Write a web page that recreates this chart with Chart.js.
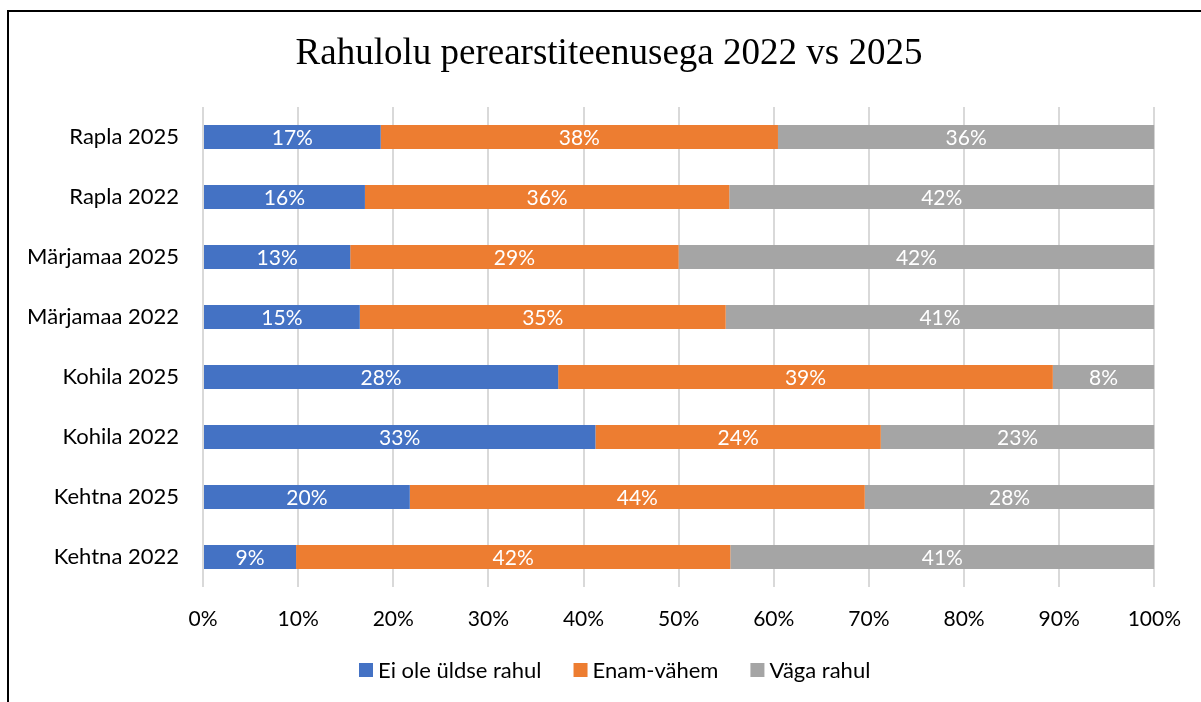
<!DOCTYPE html>
<html>
<head>
<meta charset="utf-8">
<script src="https://cdn.jsdelivr.net/npm/chart.js@4.4.1/dist/chart.umd.min.js"></script>
<style>
  html, body { margin: 0; padding: 0; background: #fff; }
  #wrap { position: relative; width: 1201px; height: 702px; overflow: hidden; }
  #frame { position: absolute; left: 7px; top: 10px; right: -10px; bottom: -10px;
           border-top: 2px solid #000; border-left: 2px solid #000; }
  canvas { position: absolute; left: 0; top: 0; }
</style>
</head>
<body>
<div id="wrap">
  <div id="frame"></div>
  <canvas id="chart" width="1201" height="702"></canvas>
</div>
<script>
// raw survey shares as printed on the bars (rows do not add to 100)
const categories = ['Rapla 2025', 'Rapla 2022', 'Märjamaa 2025', 'Märjamaa 2022',
                    'Kohila 2025', 'Kohila 2022', 'Kehtna 2025', 'Kehtna 2022'];
const notSatisfied  = [17, 16, 13, 15, 28, 33, 20, 9];
const moreOrLess    = [38, 36, 29, 35, 39, 24, 44, 42];
const verySatisfied = [36, 42, 42, 41, 8, 23, 28, 41];
const seriesNames   = ['Ei ole üldse rahul', 'Enam-vähem', 'Väga rahul'];
const seriesColors  = ['#4472C4', '#ED7D31', '#A5A5A5'];
const xTicks = [0, 10, 20, 30, 40, 50, 60, 70, 80, 90, 100];
const chartTitle = 'Rahulolu perearstiteenusega 2022 vs 2025';

const rawSeries = [notSatisfied, moreOrLess, verySatisfied];
const rowTotals = categories.map((_, i) => rawSeries.reduce((s, arr) => s + arr[i], 0));
// 100% stacked: each segment as a share of its row
const share = arr => arr.map((v, i) => v / rowTotals[i] * 100);

const FONT = 'Lato, Carlito, Calibri, sans-serif';

const barLabels = {
  id: 'barLabels',
  afterDatasetsDraw(chart) {
    const c = chart.ctx;
    c.save();
    c.font = '21px ' + FONT;
    c.fillStyle = '#fff';
    c.textAlign = 'center';
    c.textBaseline = 'middle';
    chart.data.datasets.forEach((ds, di) => {
      chart.getDatasetMeta(di).data.forEach((bar, i) => {
        const mid = (bar.x + bar.base) / 2;
        c.fillText(rawSeries[di][i] + '%', mid, bar.y + 1);
      });
    });
    c.restore();
  }
};

// title centred on the whole frame, not on the padded box
const frameTitle = {
  id: 'frameTitle',
  afterDraw(chart) {
    const c = chart.ctx;
    c.save();
    c.font = '37px "Liberation Serif", "Times New Roman", serif';
    c.fillStyle = '#000';
    c.textAlign = 'center';
    c.textBaseline = 'alphabetic';
    c.fillText(chartTitle, 609, 64);
    c.restore();
  }
};

// Excel-style legend: small square, short gap, wide gap between entries
const bottomLegend = {
  id: 'bottomLegend',
  afterDraw(chart) {
    const c = chart.ctx;
    const box = 14, gap = 5, spacing = 32, cy = 670, cx = 615;
    c.save();
    c.font = '22px ' + FONT;
    c.textBaseline = 'middle';
    c.textAlign = 'left';
    const widths = chart.data.datasets.map(ds => c.measureText(ds.label).width);
    const total = widths.reduce((s, w) => s + box + gap + w, 0) + spacing * (widths.length - 1);
    let x = Math.round(cx - total / 2);
    chart.data.datasets.forEach((ds, i) => {
      c.fillStyle = ds.backgroundColor;
      c.fillRect(x, cy - box / 2, box, box);
      c.fillStyle = '#000';
      c.fillText(ds.label, x + box + gap, cy + 1);
      x += box + gap + widths[i] + spacing;
    });
    c.restore();
  }
};

new Chart(document.getElementById('chart').getContext('2d'), {
  type: 'bar',
  data: {
    labels: categories,
    datasets: rawSeries.map((arr, i) => ({
      label: seriesNames[i],
      data: share(arr),
      backgroundColor: seriesColors[i],
      borderWidth: 0,
      barPercentage: 0.4,
      categoryPercentage: 1
    }))
  },
  options: {
    indexAxis: 'y',
    responsive: false,
    animation: false,
    devicePixelRatio: 1,
    layout: { padding: { left: 10, right: 45, top: 107, bottom: 60 } },
    plugins: {
      title: { display: false },
      legend: { display: false },
      tooltip: { enabled: false }
    },
    scales: {
      x: {
        stacked: true,
        min: 0,
        max: 100,
        afterBuildTicks: s => { s.ticks = xTicks.map(v => ({ value: v })); },
        afterFit: s => { s.height = 55; },
        ticks: {
          callback: v => v + '%',
          color: '#000',
          font: { family: FONT, size: 21 },
          padding: 20
        },
        grid: { color: '#d9d9d9', lineWidth: 2, drawTicks: false },
        border: { display: false }
      },
      y: {
        stacked: true,
        afterFit: s => { s.width = 193; },
        ticks: {
          color: '#000',
          font: { family: FONT, size: 22 },
          padding: 24
        },
        grid: { display: false, drawTicks: false },
        border: { display: false }
      }
    }
  },
  plugins: [barLabels, frameTitle, bottomLegend]
});
</script>
</body>
</html>
